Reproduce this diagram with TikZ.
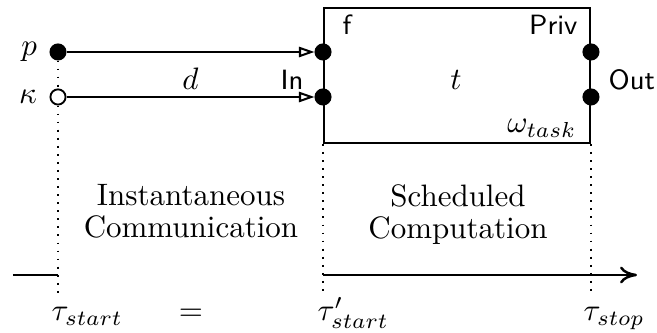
\documentclass[tikz,border=0pt]{standalone}
\usepackage{amsmath}
\usepackage{tikz}
\usetikzlibrary{arrows.meta, positioning}
\tikzset{
  taskbox/.style={draw, line width=0.65pt, minimum width=85.8pt,
                  minimum height=43.5pt, inner sep=0pt},
  srcdot/.style={circle, draw, fill=#1, line width=0.6pt, inner sep=0pt,
                 minimum size=4.9pt},
  srcdot/.default=black,
  portdot/.style={srcdot},
  flow/.style={-{Triangle[open, length=5pt, width=3.3pt]}, line width=0.65pt},
  tline/.style={line width=0.8pt},
  guide/.style={dotted, line width=0.6pt},
  portlabel/.style={font=\sffamily\small, inner sep=0pt},
  phase/.style={align=center, inner sep=0pt, anchor=north,
                font=\fontsize{10}{10.3}\selectfont},
  tlabel/.style={anchor=base west, inner sep=0pt},
}

\begin{document}
\begin{tikzpicture}[x=0.3226pt, y=-0.3226pt]
  \useasboundingbox (0,0) rectangle (657,333);

  % task and its ports
  \node[taskbox] (task) at (457,75.5) {};
  \node[srcdot] (p) at (58,52) {};
  \node[srcdot=white] (kappa) at (58,97) {};
  \node[portdot] (fin) at (task.west |- p) {};
  \node[portdot] (din) at (task.west |- kappa) {};
  \node[portdot] (priv) at (task.east |- p) {};
  \node[portdot] (out) at (task.east |- kappa) {};

  \node[left=0.5pt of p] (plabel) {$p$};
  \node[left=0.5pt of kappa] (kappalabel) {$\kappa$};
  \node[portlabel, anchor=base west] (flabel) at (342,35) {f};
  \node[portlabel, anchor=base east] (privlabel) at (578,35) {Priv};
  \node[portlabel, anchor=base east] (inlabel) at (304,90) {In};
  \node[portlabel, anchor=base west] (outlabel) at (608,90) {Out};
  \node[anchor=base] (tname) at (456,90) {$t$};
  \node[anchor=base east, inner sep=0pt] (wtask) at (577,133) {$\omega_{task}$};

  \draw[flow] (p) -- (fin);
  \draw[flow] (kappa) -- node[above, inner sep=2pt] (dlabel) {$d$} (din);

  % time line
  \coordinate (axstart) at (13,275);
  \coordinate (axend) at (637,275);
  \coordinate (ts) at (58,293);
  \coordinate (tsp) at (task.south west |- ts);
  \coordinate (te) at (task.south east |- ts);
  \draw[guide] (p) -- (kappa);
  \draw[guide] (kappa) -- (ts);
  \draw[guide] (task.south west) -- (tsp);
  \draw[guide] (task.south east) -- (te);
  \draw[tline] (axstart) -- (axstart -| p);
  \draw[tline, -{To[length=5.5pt, width=5.5pt]}] (axstart -| task.west) -- (axend);

  \node[phase] (comm) at (191,184) {Instantaneous\\Communication};
  \node[phase] (comp) at (458,184) {Scheduled\\Computation};

  \node[tlabel] (tstart) at (51,321) {$\tau_{start}$};
  \node (eq) at (191,315) {$=$};
  \node[tlabel] (tstartp) at (317,321) {$\tau'_{start}$};
  \node[tlabel] (tstop) at (583,321) {$\tau_{stop}$};
\end{tikzpicture}
\end{document}
